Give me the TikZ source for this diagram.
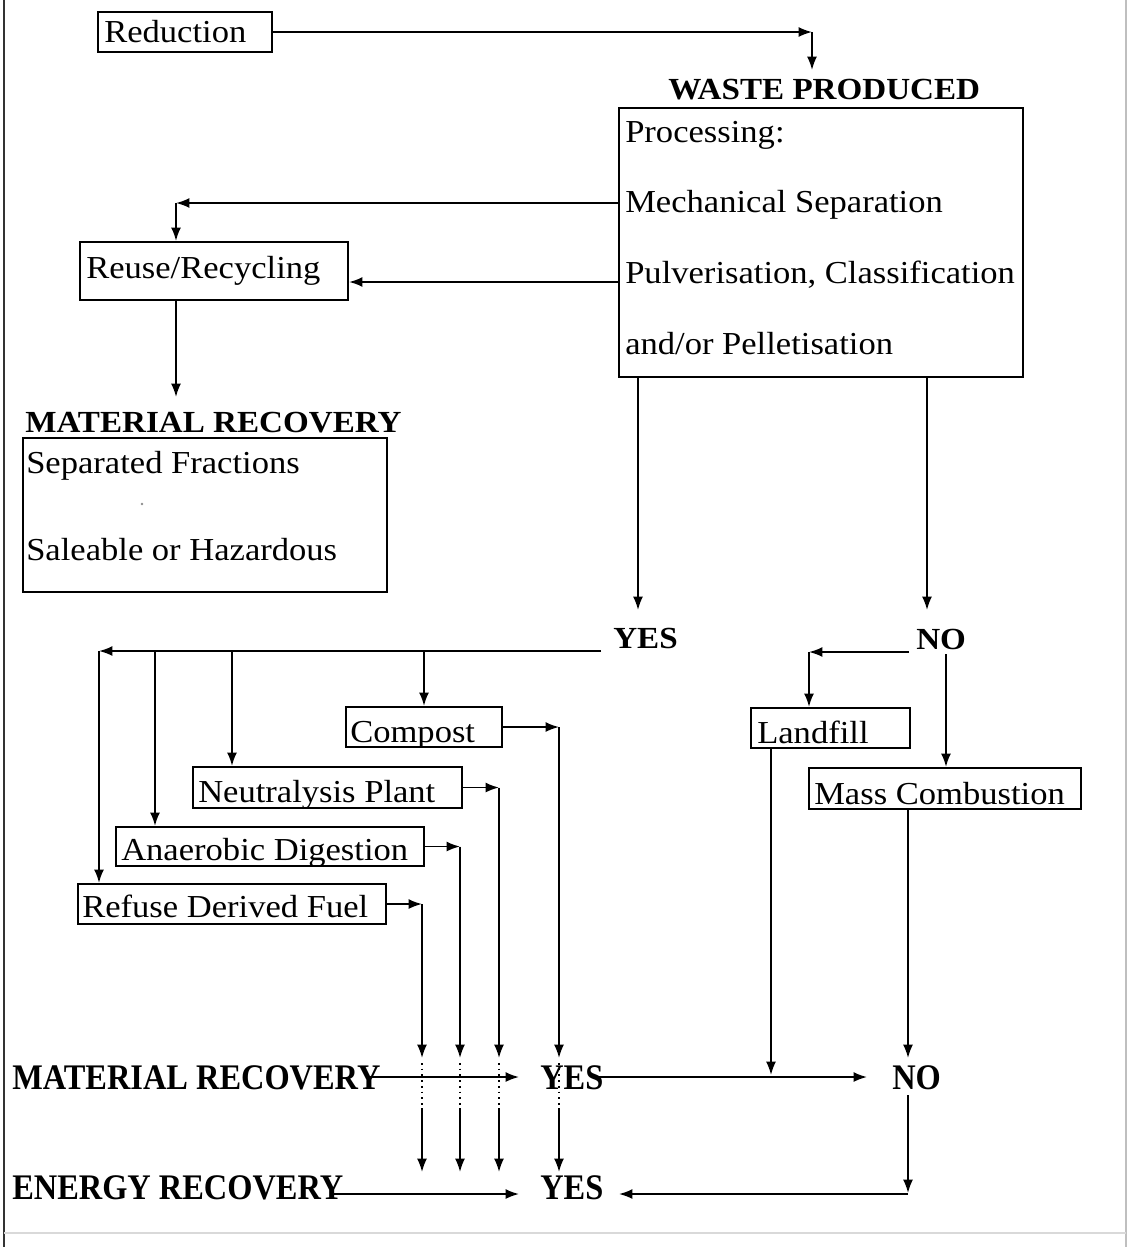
\documentclass[tikz,border=0pt]{standalone}
\usepackage{fontspec}
\setmainfont[FakeStretch=1.08]{Liberation Serif}
\newfontfamily\condfont[FakeStretch=0.9]{Liberation Serif}
\usetikzlibrary{arrows.meta,fit}
\begin{document}
\begin{tikzpicture}[x=0.75pt,y=-0.75pt,
  box/.style={draw, line width=1.6pt, inner sep=0pt},
  txt/.style={inner sep=0pt, anchor=base west, font=\fontsize{24}{28}\selectfont},
  hd/.style={inner sep=0pt, anchor=base west, font=\fontsize{23}{26}\selectfont\bfseries},
  hc/.style={inner sep=0pt, anchor=base west, font=\condfont\fontsize{27}{30}\selectfont\bfseries},
  arr/.style={-{Latex[length=10pt,width=7.5pt]}, line width=1.4pt},
  dot/.style={line width=1.3pt, dash pattern=on 1.3pt off 3pt},
  frame/.style={line width=2pt, black!80}]
\useasboundingbox (0,0) rectangle (1128,1247);
% frame
\draw[frame] (4,0) -- (4,1247);
\draw[black!25, line width=0.8pt] (1126,0) -- (1126,1247);
\draw[black!15, line width=0.8pt] (4,1233) -- (1126,1233);

% top
\node[box, fit={(98,12)(272,52)}] (red) {};
\node[txt] (tred) at (104,42) {Reduction};
\node[hd] (waste) at (668,99) {WASTE PRODUCED};
\node[box, fit={(619,108)(1023,377)}] (proc) {};
\node[txt] (tp1) at (625,142) {Processing:};
\node[txt] (tp2) at (625,212) {Mechanical Separation};
\node[txt] (tp3) at (625,283) {Pulverisation, Classification};
\node[txt] (tp4) at (625,354) {and/or Pelletisation};

\node[box, fit={(80,242)(348,300)}] (reuse) {};
\node[txt] (treuse) at (86,278) {Reuse/Recycling};
\node[hd] (mat1) at (25,432) {MATERIAL RECOVERY};
\node[box, fit={(23,438)(387,592)}] (matbox) {};
\node[txt] (tsep) at (26,473) {Separated Fractions};
\node[txt] (tsal) at (26,560) {Saleable or Hazardous};
\fill[black!45] (142,504) circle (1.3);

\node[hd] (yes1) at (613,648) {YES};
\node[hd] (no1) at (916,649) {NO};

% YES branch boxes
\node[box, fit={(346,707)(502,747)}] (compost) {};
\node[box, fit={(193,767)(462,808)}] (neutral) {};
\node[box, fit={(116,827)(424,866)}] (anaer) {};
\node[box, fit={(78,884)(386,924)}] (rdf) {};
\begin{scope}
\clip (346,700) rectangle (502,747);
\node[txt] (tcomp) at (350,742) {Compost};
\end{scope}
\begin{scope}
\clip (193,760) rectangle (462,808);
\node[txt] (tneu) at (198,802) {Neutralysis Plant};
\end{scope}
\begin{scope}
\clip (116,820) rectangle (424,866);
\node[txt] (tana) at (121,860) {Anaerobic Digestion};
\end{scope}
\node[txt] (trdf) at (82,917) {Refuse Derived Fuel};

% NO branch boxes
\node[box, fit={(751,708)(910,748)}] (landfill) {};
\node[txt] (tland) at (757,743) {Landfill};
\node[box, fit={(809,768)(1081,809)}] (mass) {};
\node[txt] (tmass) at (814,804) {Mass Combustion};

% bottom labels
\node[hc] (mat2) at (12,1089) {MATERIAL RECOVERY};
\node[hc] (yes2) at (540,1089) {YES};
\node[hc] (no2) at (892,1089) {NO};
\node[hc] (ener) at (12,1199) {ENERGY RECOVERY};
\node[hc] (yes3) at (540,1199) {YES};

% connectors: top
\coordinate (a1) at (812,32);
\coordinate (a2) at (812,70);
\draw[arr] (red.east) -- (a1);
\draw[arr] (a1) -- (a2);

\coordinate (b1) at (619,203);
\coordinate (b2) at (176,203);
\draw[arr] (b1) -- (b2);
\draw[arr] (b2) -- (b2 |- reuse.north);
\coordinate (b3) at (619,282);
\draw[arr] (b3) -- (b3 -| reuse.east);
\coordinate (b4) at (176,397);
\draw[arr] (b2 |- reuse.south) -- (b4);

\coordinate (c1) at (638,377);
\coordinate (c2) at (638,610);
\draw[arr] (c1) -- (c2);
\coordinate (d1) at (927,377);
\coordinate (d2) at (927,610);
\draw[arr] (d1) -- (d2);

% YES distribution
\coordinate (e0) at (601,651);
\coordinate (e1) at (99,651);
\draw[arr] (e0) -- (e1);
\draw[arr] (e1) -- (e1 |- rdf.north);
\coordinate (e2) at (155,651);
\coordinate (e3) at (232,651);
\coordinate (e4) at (424,651);
\draw[arr] (e2) -- (e2 |- anaer.north);
\draw[arr] (e3) -- (e3 |- neutral.north);
\draw[arr] (e4) -- (e4 |- compost.north);

\foreach \b/\x in {compost/559, neutral/499, anaer/460, rdf/422}{
  \coordinate (k\b) at (\b.east -| \x,0);
  \draw[arr] (\b.east) -- (k\b);
  \draw[arr] (k\b) -- (\x,1058);
  \draw[dot] (\x,1063) -- (\x,1108);
  \draw[arr] (\x,1108) -- (\x,1172);
}

% NO branch
\coordinate (f1) at (909,652);
\coordinate (f2) at (809,652);
\draw[arr] (f1) -- (f2);
\draw[arr] (f2) -- (f2 |- landfill.north);
\coordinate (g1) at (946,654);
\draw[arr] (g1) -- (g1 |- mass.north);
\coordinate (h1) at (771,748);
\coordinate (h2) at (771,1075);
\draw[arr] (h1) -- (h2);
\coordinate (i1) at (908,809);
\coordinate (i2) at (908,1058);
\draw[arr] (i1) -- (i2);

% bottom rows
\coordinate (j1) at (370,1077);
\coordinate (j2) at (519,1077);
\draw[arr] (j1) -- (j2);
\coordinate (j3) at (597,1077);
\coordinate (j4) at (867,1077);
\draw[arr] (j3) -- (j4);
\coordinate (l1) at (908,1095);
\coordinate (l2) at (908,1193);
\coordinate (l3) at (619,1194);
\draw[arr] (l1) -- (l2);
\draw[arr] (908,1194) -- (l3);
\coordinate (m1) at (331,1194);
\coordinate (m2) at (519,1194);
\draw[arr] (m1) -- (m2);
\end{tikzpicture}
\end{document}
